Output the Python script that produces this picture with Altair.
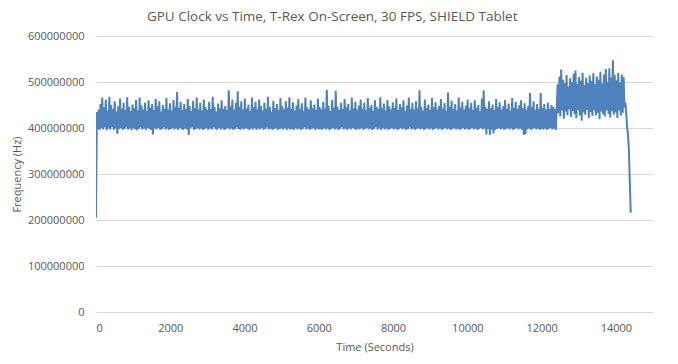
import altair as alt
import pandas as pd

# GPU clock samples in MHz, one sample every 24 seconds
SAMPLE_STEP_S = 24
freq_mhz = [
    205,
    435, 398, 440, 396, 452, 400, 466, 397, 445, 401, 462, 395, 438, 399, 468, 397, 450, 402, 441, 396,
    458, 399, 436, 387, 447, 398, 464, 400, 442, 396, 455, 398, 439, 401, 467, 397, 446, 399, 437, 396,
    451, 400, 443, 397, 461, 395, 438, 398, 466, 401, 449, 397, 440, 399, 455, 396, 437, 400, 460, 398,
    444, 396, 452, 386, 439, 399, 463, 397, 447, 400, 458, 396, 436, 398, 450, 401, 442, 397, 465, 399,
    440, 396, 454, 398, 438, 400, 461, 397, 446, 399, 478, 396, 444, 400, 457, 398, 439, 396, 452, 399,
    441, 397, 463, 385, 448, 399, 437, 401, 459, 396, 443, 398, 466, 400, 440, 397, 455, 399, 438, 396,
    462, 398, 445, 400, 439, 396, 457, 399, 441, 397, 468, 401, 446, 398, 436, 396, 453, 400, 443, 397,
    460, 399, 441, 396, 448, 398, 439, 400, 482, 397, 447, 399, 462, 396, 440, 398, 455, 401, 480, 398,
    446, 396, 458, 399, 440, 397, 464, 400, 443, 398, 451, 396, 437, 399, 466, 397, 445, 400, 457, 396,
    440, 399, 462, 397, 448, 400, 438, 396, 455, 398, 442, 401, 468, 397, 446, 399, 436, 396, 459, 398,
    443, 400, 452, 396, 439, 398, 465, 399, 447, 397, 440, 400, 458, 396, 444, 399, 467, 397, 441, 398,
    456, 396, 438, 400, 449, 397, 463, 399, 442, 396, 454, 398, 437, 401, 466, 397, 445, 399, 440, 396,
    460, 398, 443, 400, 451, 396, 439, 399, 464, 397, 446, 398, 440, 396, 457, 400, 442, 397, 483, 399,
    448, 396, 437, 398, 461, 400, 444, 397, 481, 399, 446, 396, 439, 398, 455, 401, 441, 397, 463, 399,
    445, 396, 452, 399, 438, 397, 466, 400, 443, 398, 457, 396, 440, 399, 449, 397, 462, 400, 442, 396,
    455, 398, 439, 400, 465, 397, 444, 399, 450, 396, 437, 398, 460, 401, 446, 397, 441, 399, 467, 396,
    443, 400, 453, 397, 438, 399, 461, 396, 447, 398, 440, 400, 456, 397, 444, 399, 464, 396, 439, 398,
    452, 400, 445, 397, 460, 399, 437, 396, 449, 398, 466, 401, 442, 397, 455, 399, 440, 396, 458, 398,
    443, 400, 482, 397, 446, 399, 438, 396, 462, 398, 444, 400, 451, 397, 439, 399, 465, 396, 445, 398,
    456, 400, 440, 397, 448, 399, 463, 396, 442, 398, 454, 400, 437, 397, 477, 399, 446, 396, 459, 398,
    441, 400, 452, 397, 438, 399, 466, 396, 445, 398, 457, 400, 440, 397, 449, 399, 462, 396, 443, 398,
    455, 400, 439, 397, 460, 399, 444, 396, 450, 398, 437, 400, 464, 397, 482, 399, 446, 386, 441, 398,
    458, 385, 443, 397, 451, 388, 439, 396, 463, 398, 445, 400, 456, 397, 440, 399, 448, 396, 461, 398,
    442, 400, 453, 397, 438, 399, 465, 396, 444, 398, 457, 400, 441, 397, 450, 399, 460, 396, 443, 385,
    454, 387, 440, 397, 448, 399, 476, 396, 445, 398, 458, 400, 439, 397, 452, 399, 441, 396, 476, 398,
    444, 397, 452, 399, 440, 396, 455, 398, 442, 400, 450, 397, 446, 399, 441, 396, 448,
    495, 432, 512, 425, 527, 438, 505, 420, 498, 436, 515, 428, 490, 441, 508, 424, 500, 437, 518, 430,
    525, 422, 496, 439, 511, 427, 503, 416, 520, 434, 493, 429, 509, 440, 498, 421, 514, 435, 502, 426,
    519, 438, 495, 428, 512, 433, 505, 419, 522, 436, 497, 430, 516, 425, 528, 439, 501, 431, 530, 423,
    510, 437, 547, 429, 515, 434, 504, 422, 520, 438, 499, 427, 516, 433, 511, 445,
    455, 430, 400, 385, 350, 280, 216,
]

x_ticks = [0, 2000, 4000, 6000, 8000, 10000, 12000, 14000]
y_ticks = [0, 100000000, 200000000, 300000000, 400000000, 500000000, 600000000]

df = pd.DataFrame({
    "time": [i * SAMPLE_STEP_S for i in range(len(freq_mhz))],
    "freq": [v * 1_000_000 for v in freq_mhz],
})

FONT = "Open Sans"
GRAY = "#595959"

chart = (
    alt.Chart(df)
    .mark_line(color="#4F81BD", strokeWidth=2, clip=True)
    .encode(
        x=alt.X(
            "time:Q",
            scale=alt.Scale(domain=[0, 15000], nice=False),
            axis=alt.Axis(
                values=x_ticks, title="Time (Seconds)", grid=False, domain=False,
                ticks=False, labelPadding=10, format="d",
            ),
        ),
        y=alt.Y(
            "freq:Q",
            scale=alt.Scale(domain=[0, 600000000], nice=False),
            axis=alt.Axis(
                values=y_ticks, title="Frequency (Hz)", grid=True, domain=False,
                ticks=False, labelPadding=12, format="d",
            ),
        ),
    )
    .properties(
        width=557,
        height=276,
        padding={"left": 3, "top": 1, "right": 5, "bottom": 5},
        title=alt.TitleParams(
            "GPU Clock vs Time, T-Rex On-Screen, 30 FPS, SHIELD Tablet",
            font=FONT, fontSize=13.5, fontWeight="normal", color=GRAY,
            anchor="middle", frame="bounds", offset=7,
        ),
    )
    .configure_view(stroke=None)
    .configure_axis(
        labelFont=FONT, labelFontSize=11, labelColor=GRAY,
        titleFont=FONT, titleFontSize=11, titleColor=GRAY, titleFontWeight="normal",
        gridColor="#d9d9d9", gridWidth=1,
    )
    .configure_axisY(titlePadding=5)
    .configure_axisX(titlePadding=8)
)

chart.save("out.html", embed_options={"renderer": "svg", "actions": False})
